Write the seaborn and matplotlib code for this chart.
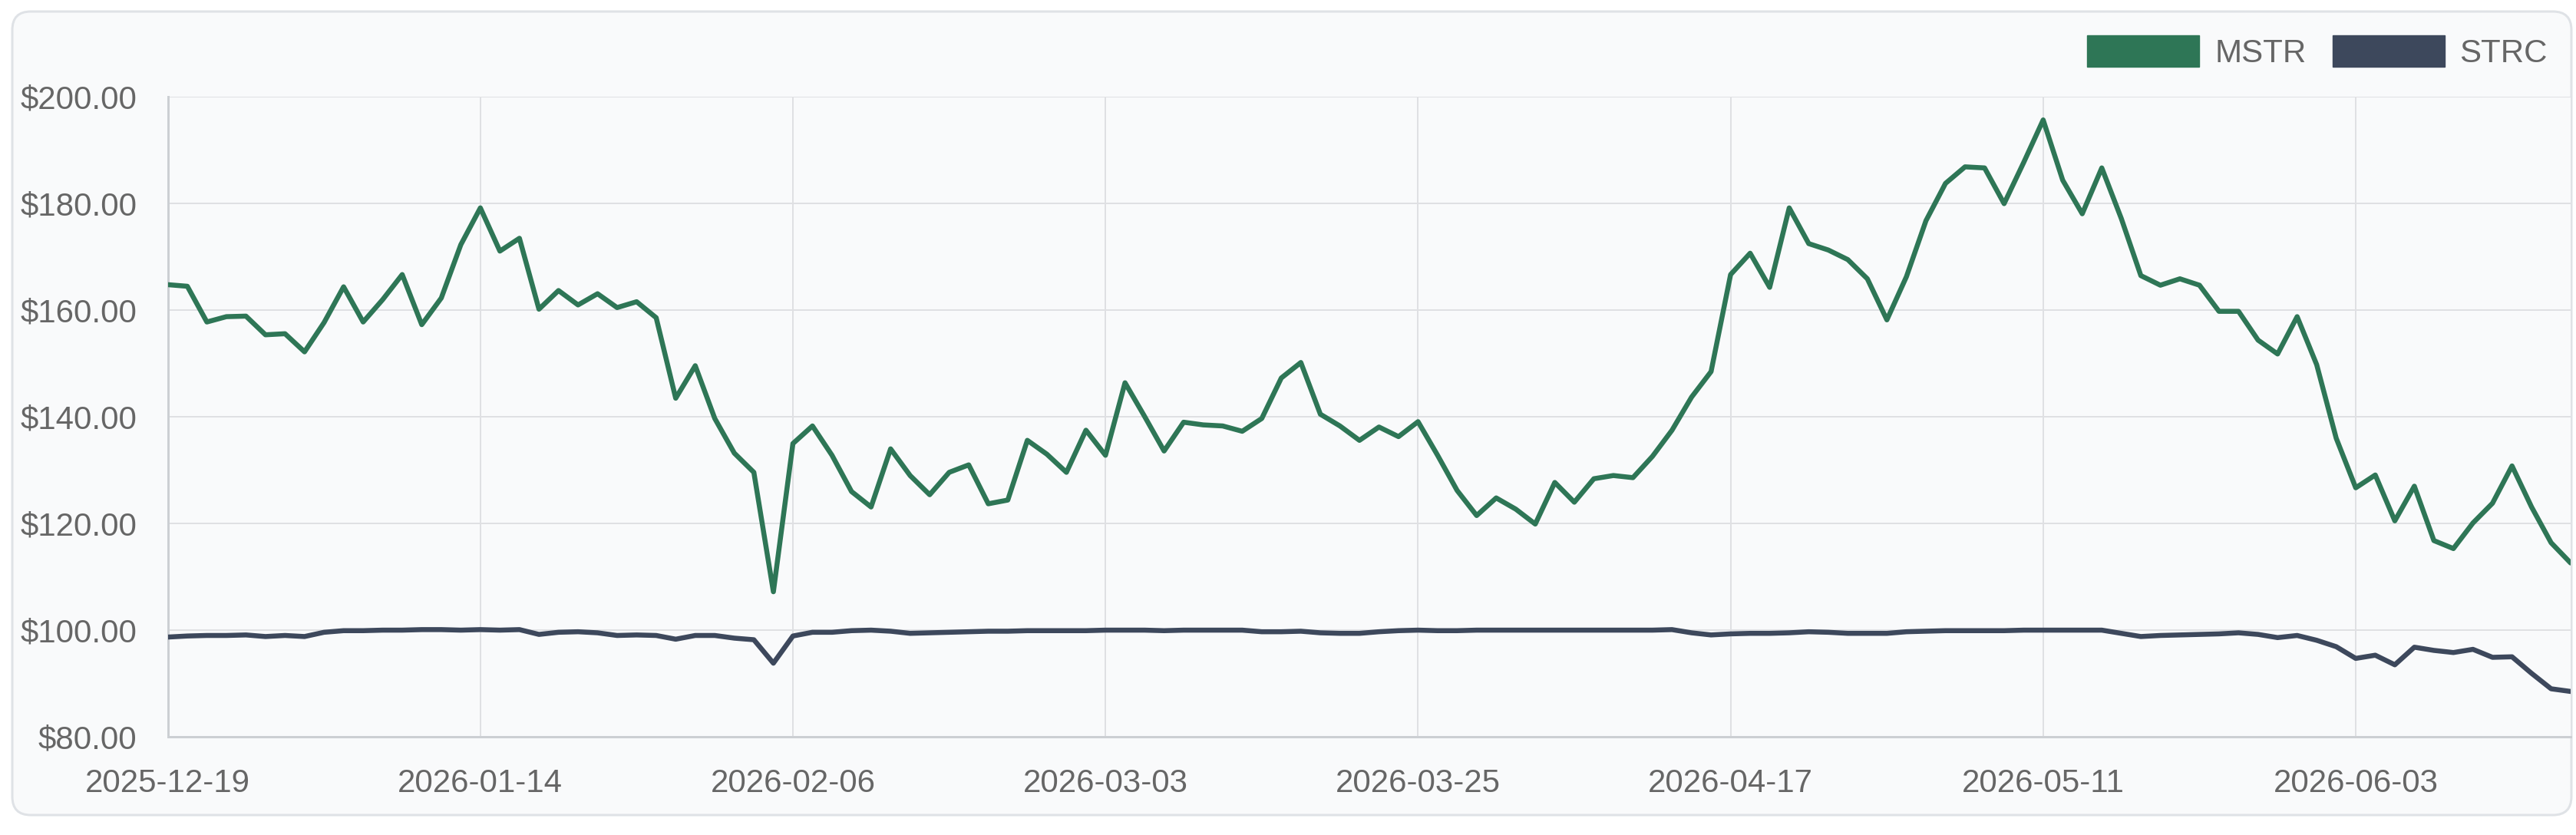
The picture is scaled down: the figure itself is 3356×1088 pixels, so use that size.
import numpy as np
import pandas as pd
import matplotlib
matplotlib.use("Agg")
import matplotlib.pyplot as plt
from matplotlib.patches import FancyBboxPatch, Patch
from matplotlib.transforms import IdentityTransform
from matplotlib.ticker import FuncFormatter
import seaborn as sns

# ---------------- data ----------------
START_DATE = "2025-12-19"
END_DATE = "2026-06-18"
MARKET_HOLIDAYS = ["2025-12-25", "2026-01-01", "2026-01-19", "2026-02-16",
                   "2026-04-03", "2026-05-25", "2026-06-19"]

mstr = [164.8, 164.5, 157.8, 158.8, 158.9, 155.4, 155.6, 152.2, 157.7, 164.4,
        157.8, 162.0, 166.7, 157.3, 162.3, 172.3, 179.2, 171.1, 173.5, 160.2,
        163.7, 161.0, 163.1, 160.5, 161.6, 158.6, 143.5, 149.6, 139.7, 133.2,
        129.6, 107.2, 135.0, 138.3, 132.8, 126.0, 123.1, 134.0, 129.0, 125.4,
        129.6, 131.0, 123.7, 124.4, 135.6, 133.0, 129.6, 137.5, 132.8, 146.4,
        140.1, 133.6, 139.0, 138.5, 138.3, 137.3, 139.7, 147.3, 150.2, 140.5,
        138.3, 135.6, 138.1, 136.3, 139.1, 132.8, 126.2, 121.5, 124.8, 122.7,
        119.9, 127.7, 124.0, 128.4, 129.0, 128.6, 132.6, 137.5, 143.7, 148.5,
        166.7, 170.7, 164.3, 179.2, 172.5, 171.3, 169.5, 165.9, 158.2, 166.3,
        176.8, 183.8, 186.9, 186.7, 180.0, 187.7, 195.7, 184.4, 178.1, 186.7,
        177.2, 166.5, 164.7, 165.9, 164.7, 159.8, 159.8, 154.4, 151.8, 158.8,
        149.8, 136.0, 126.7, 129.1, 120.5, 127.0, 116.8, 115.3, 120.1, 123.8,
        130.8, 123.1, 116.4, 112.6]

strc = [98.7, 98.9, 99.0, 99.0, 99.1, 98.8, 99.0, 98.8, 99.6, 99.9,
        99.9, 100.0, 100.0, 100.1, 100.1, 100.0, 100.1, 100.0, 100.1, 99.2,
        99.6, 99.7, 99.5, 99.0, 99.1, 99.0, 98.3, 99.0, 99.0, 98.5,
        98.2, 93.8, 98.9, 99.6, 99.6, 99.9, 100.0, 99.8, 99.4, 99.5,
        99.6, 99.7, 99.8, 99.8, 99.9, 99.9, 99.9, 99.9, 100.0, 100.0,
        100.0, 99.9, 100.0, 100.0, 100.0, 100.0, 99.7, 99.7, 99.8, 99.5,
        99.4, 99.4, 99.7, 99.9, 100.0, 99.9, 99.9, 100.0, 100.0, 100.0,
        100.0, 100.0, 100.0, 100.0, 100.0, 100.0, 100.0, 100.1, 99.5, 99.1,
        99.3, 99.4, 99.4, 99.5, 99.7, 99.6, 99.4, 99.4, 99.4, 99.7,
        99.8, 99.9, 99.9, 99.9, 99.9, 100.0, 100.0, 100.0, 100.0, 100.0,
        99.4, 98.8, 99.0, 99.1, 99.2, 99.3, 99.5, 99.2, 98.6, 99.0,
        98.1, 96.9, 94.7, 95.3, 93.5, 96.8, 96.2, 95.8, 96.4, 94.9,
        95.0, 91.9, 89.0, 88.5]

series_names = ["MSTR", "STRC"]
series_colors = ["#2e7656", "#3d485c"]
y_ticks = [80, 100, 120, 140, 160, 180, 200]
label_every = 16

dates = pd.bdate_range(START_DATE, END_DATE, freq="C", holidays=MARKET_HOLIDAYS)
date_labels = list(dates.strftime("%Y-%m-%d"))
n = len(date_labels)
assert n == len(mstr) == len(strc), (n, len(mstr), len(strc))

df = pd.DataFrame({
    "idx": list(range(n)) * 2,
    "price": mstr + strc,
    "ticker": ["MSTR"] * n + ["STRC"] * n,
})

# ---------------- style ----------------
sns.set_style("white")
plt.rcParams["font.family"] = ["Liberation Sans", "DejaVu Sans"]

W, H, DPI = 3356, 1088, 100
PX = 72.0 / DPI  # points per pixel

TEXT = "#666666"
GRID = "#dfe0e3"
AXIS = "#cccfd3"
CARD = "#f9fafb"
CARD_EDGE = "#dfe2e6"

fig = plt.figure(figsize=(W / DPI, H / DPI), dpi=DPI, facecolor="white")

# card background
card = FancyBboxPatch((16, H - 1062), 3334, 1047,
                      boxstyle="round,pad=0,rounding_size=24",
                      transform=IdentityTransform(), facecolor=CARD,
                      edgecolor=CARD_EDGE, linewidth=3 * PX, zorder=-10)
fig.patches.append(card)

left, right, top, bottom = 218.6, 3349.0, 126.4, 960.0
ax = fig.add_axes([left / W, (H - bottom) / H, (right - left) / W, (bottom - top) / H])
ax.set_facecolor(CARD)

sns.lineplot(data=df, x="idx", y="price", hue="ticker", hue_order=series_names,
             palette=series_colors, linewidth=6.5 * PX, legend=False, ax=ax,
             solid_joinstyle="round", solid_capstyle="round", zorder=3)

ax.set_xlim(0, n - 1)
ax.set_ylim(80, 200)
ax.set_xticks(list(range(0, n, label_every)))
ax.set_xticklabels([date_labels[i] for i in range(0, n, label_every)])
ax.set_yticks(y_ticks)
ax.yaxis.set_major_formatter(FuncFormatter(lambda v, p: f"${v:,.2f}"))
ax.set_xlabel("")
ax.set_ylabel("")

ax.grid(True, color=GRID, linewidth=2 * PX, zorder=0)
ax.set_axisbelow(True)
for s in ["top", "right"]:
    ax.spines[s].set_visible(False)
for s in ["left", "bottom"]:
    ax.spines[s].set_color(AXIS)
    ax.spines[s].set_linewidth(3 * PX)

fs = 42 * PX
ax.tick_params(axis="y", length=28 * PX, width=2 * PX, color=GRID,
               pad=12 * PX, labelsize=fs, labelcolor=TEXT)
ax.tick_params(axis="x", length=27 * PX, width=2 * PX, color=GRID,
               pad=14 * PX, labelsize=fs, labelcolor=TEXT)

handles = [Patch(facecolor=c, edgecolor=c, label=nm)
           for nm, c in zip(series_names, series_colors)]
leg = fig.legend(handles=handles, loc="upper right",
                 bbox_to_anchor=(3319 / W, (H - 46) / H),
                 ncol=2, frameon=False, fontsize=fs,
                 handlelength=146 / 42, handleheight=48 / 42,
                 handletextpad=20 / 42, columnspacing=34 / 42,
                 borderpad=0, borderaxespad=0)
for t in leg.get_texts():
    t.set_color(TEXT)

fig.savefig("out.png", dpi=DPI, facecolor="white")
